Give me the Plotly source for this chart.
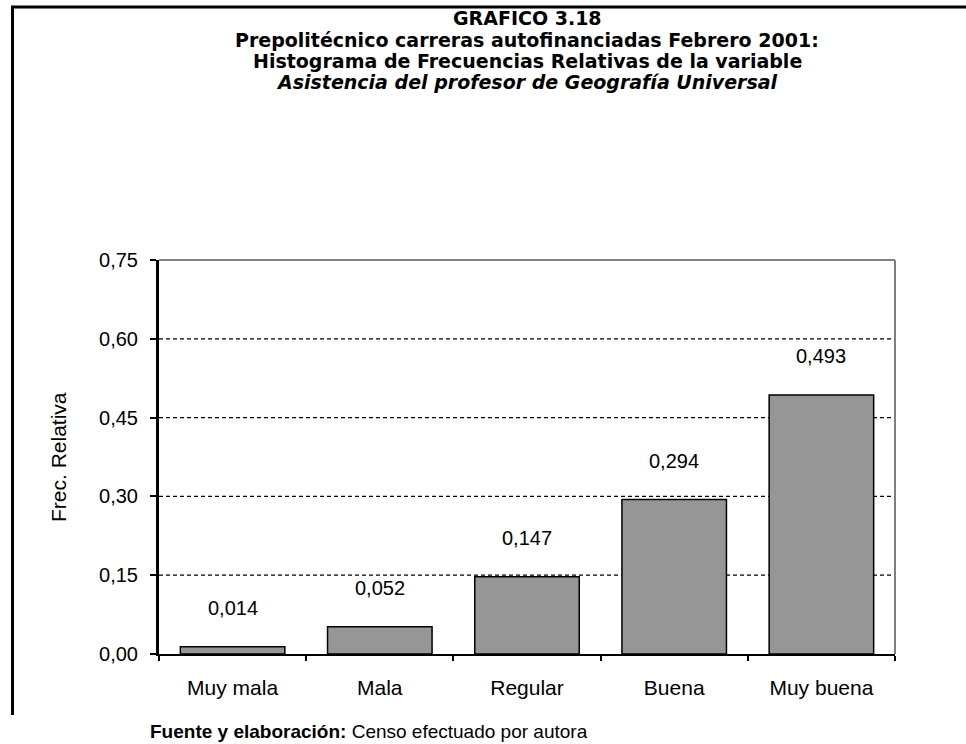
import plotly.graph_objects as go

categorias = ["Muy mala", "Mala", "Regular", "Buena", "Muy buena"]
frecuencias = [0.014, 0.052, 0.147, 0.294, 0.493]
y_ticks = [0.0, 0.15, 0.30, 0.45, 0.60, 0.75]

titulo = [
    "<b>GRAFICO 3.18</b>",
    "<b>Prepolitécnico carreras autofinanciadas Febrero 2001:</b>",
    "<b>Histograma de Frecuencias Relativas de la variable</b>",
    "<b><i>Asistencia del profesor de Geografía Universal</i></b>",
]

W, H = 966, 744
L, R, T, B = 159, 71, 260, 90
pw, ph = W - L - R, H - T - B


def px_x(x):
    return (x - L) / pw


def px_y(y):
    return (H - B - y) / ph


FONT = "Liberation Sans, Arial, sans-serif"
TITLE_FONT = "DejaVu Sans, Liberation Sans, sans-serif"

fig = go.Figure()
fig.add_trace(go.Bar(
    x=categorias,
    y=frecuencias,
    marker=dict(color="#969696", line=dict(color="black", width=1.5)),
    width=0.71,
    hoverinfo="x+y",
))

anns = []
for c, v in zip(categorias, frecuencias):
    anns.append(dict(
        x=c, y=v, xref="x", yref="y", text=f"{v:.3f}".replace(".", ","),
        showarrow=False, yanchor="middle", yshift=39,
        font=dict(size=20, color="black", family=FONT),
    ))

# title lines
for t, py in zip(titulo, [18, 39.5, 61, 82.5]):
    anns.append(dict(
        x=0.5, y=px_y(py), xref="paper", yref="paper", text=t,
        showarrow=False, xanchor="center", yanchor="middle",
        font=dict(size=19, color="black", family=TITLE_FONT),
    ))

anns.append(dict(
    x=px_x(58), y=0.5, xref="paper", yref="paper", text="Frec. Relativa",
    textangle=-90, showarrow=False, xanchor="center", yanchor="middle",
    font=dict(size=21, color="black", family=FONT),
))
anns.append(dict(
    x=px_x(148), y=px_y(731), xref="paper", yref="paper",
    text="<b>Fuente y elaboración:</b> Censo efectuado por autora",
    showarrow=False, xanchor="left", yanchor="middle",
    font=dict(size=19, color="black", family=FONT),
))

shapes = [
    # outer frame
    dict(type="line", xref="paper", yref="paper",
         x0=px_x(12.5), x1=px_x(12.5), y0=px_y(7), y1=px_y(715),
         line=dict(color="black", width=3)),
    dict(type="line", xref="paper", yref="paper",
         x0=px_x(11), x1=px_x(980), y0=px_y(7), y1=px_y(7),
         line=dict(color="black", width=3)),
    # plot border top/right in gray
    dict(type="line", xref="paper", yref="paper",
         x0=0, x1=1, y0=1, y1=1, line=dict(color="#808080", width=2)),
    dict(type="line", xref="paper", yref="paper",
         x0=1, x1=1, y0=0, y1=1, line=dict(color="#808080", width=2)),
]
# dashed gridlines
for v in y_ticks[1:-1]:
    shapes.append(dict(type="line", xref="paper", yref="y", x0=0, x1=1,
                       y0=v, y1=v, layer="below",
                       line=dict(color="black", width=1.3, dash="4px,3px")))

fig.update_layout(
    width=W, height=H,
    margin=dict(l=L, r=R, t=T, b=B),
    paper_bgcolor="white", plot_bgcolor="white",
    showlegend=False,
    separators=",.",
    font=dict(family=FONT, color="black", size=18),
    annotations=anns,
    shapes=shapes,
    xaxis=dict(
        showline=True, linecolor="black", linewidth=2,
        ticks="outside", ticklen=5, tickcolor="black", tickwidth=1.5,
        tickson="boundaries", showgrid=False, ticklabelstandoff=14,
        tickfont=dict(size=21, family=FONT),
    ),
    yaxis=dict(
        range=[0, 0.75], tickvals=y_ticks, tickformat=".2f",
        showline=True, linecolor="black", linewidth=3,
        ticks="outside", ticklen=6, tickcolor="black", tickwidth=1.5,
        showgrid=False, zeroline=False, ticklabelstandoff=8,
        tickfont=dict(size=20, family=FONT),
    ),
)

fig.write_html("out.html", config={"displayModeBar": False},
               post_script="document.body.style.margin='0';")
